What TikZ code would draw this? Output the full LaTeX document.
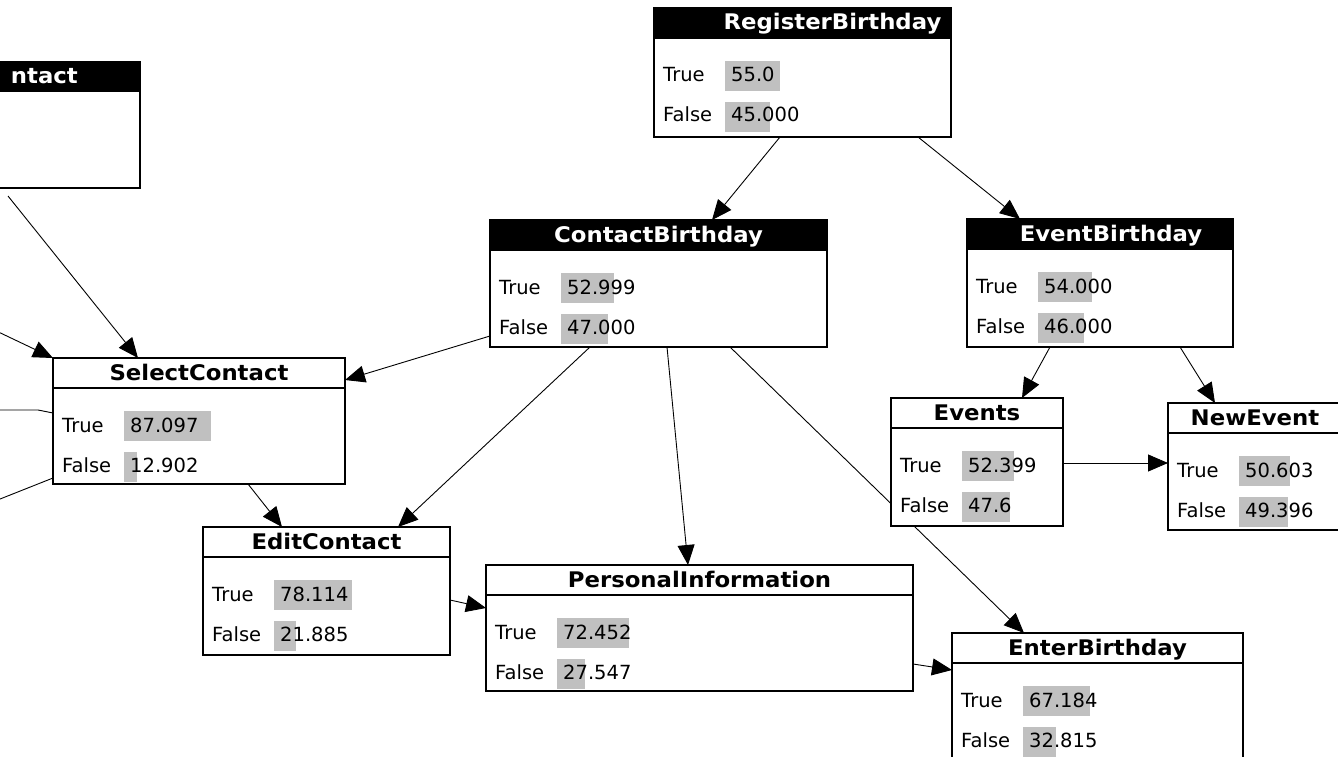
\documentclass[tikz,border=0pt]{standalone}
\usepackage{fontspec}
\newfontfamily\dvsans{DejaVu Sans}
\newfontfamily\dvhead{DejaVu Sans}[FakeStretch=1.06]
\usetikzlibrary{arrows.meta}
\definecolor{bargray}{RGB}{192,192,192}
\pgfdeclarelayer{bg}
\pgfsetlayers{bg,main}
\tikzset{
  box/.style={draw=black, fill=white, line width=1.5pt, rectangle, anchor=north west, inner sep=0pt, outer sep=0pt},
  dark fill/.style={fill=black},
  light fill/.style={},
  dark text/.style={text=white},
  light text/.style={text=black},
  darkrb fill/.style={fill=black},
  darkrb text/.style={text=white, xshift=30pt},
  darkeb fill/.style={fill=black},
  darkeb text/.style={text=white, xshift=11pt},
  htext/.style={font=\dvhead\bfseries\fontsize{21.5}{24}\selectfont, anchor=base, inner sep=0pt},
  lbl/.style={font=\dvsans\fontsize{19.5}{22}\selectfont, anchor=base west, inner sep=0pt},
  bar/.style={fill=bargray},
  edge/.style={line width=0.9pt, -{Triangle[length=20pt,width=17pt]}},
  plain/.style={line width=0.9pt},
}
% id, x, y, w, h, title, header style, true value, false value
\newcommand\BN[9]{%
  \node[box, minimum width=#4pt, minimum height=#5pt] (#1) at (#2,#3) {};
  \path[#7 fill] (#1.north west) rectangle ([yshift=-30pt]#1.north east);
  \draw[line width=1.5pt] ([yshift=-30pt]#1.north west) -- ([yshift=-30pt]#1.north east);
  \node[htext, #7 text] (#1-title) at ([yshift=-22pt]#1.north) {#6};
  \fill[bar] ([xshift=71pt,yshift=-53pt]#1.north west) rectangle ++(#8,30);
  \fill[bar] ([xshift=71pt,yshift=-94pt]#1.north west) rectangle ++(#9,30);
  \node[lbl] (#1-tl) at ([xshift=9pt,yshift=-74pt]#1.north west) {True};
  \node[lbl] (#1-tv) at ([xshift=77pt,yshift=-74pt]#1.north west) {#8};
  \node[lbl] (#1-fl) at ([xshift=9pt,yshift=-114pt]#1.north west) {False};
  \node[lbl] (#1-fv) at ([xshift=77pt,yshift=-114pt]#1.north west) {#9};
}
\begin{document}
\begin{tikzpicture}[x=1pt, y=-1pt]
\useasboundingbox (0,0) rectangle (1338,757);
\clip (0,0) rectangle (1338,757);

% partial node at top left
\node[box, minimum width=290pt, minimum height=126pt] (pc) at (-150,62) {};
\fill[black] (pc.north west) rectangle ([yshift=-30pt]pc.north east);
\node[htext, text=white, anchor=base east] (pc-title) at ([xshift=-62pt,yshift=-22pt]pc.north east) {ntact};

\BN{rb}{654}{8}{297}{129}{RegisterBirthday}{darkrb}{55.0}{45.000}
\BN{cb}{490}{220}{337}{127}{ContactBirthday}{dark}{52.999}{47.000}
\BN{eb}{967}{219}{266}{128}{EventBirthday}{darkeb}{54.000}{46.000}
\BN{sc}{53}{358}{292}{126}{SelectContact}{light}{87.097}{12.902}
\BN{ec}{203}{527}{247}{128}{EditContact}{light}{78.114}{21.885}
\BN{pi}{486}{565}{427}{126}{PersonalInformation}{light}{72.452}{27.547}
\BN{ev}{891}{398}{172}{128}{Events}{light}{52.399}{47.6}
\BN{ne}{1168}{403}{174}{127}{NewEvent}{light}{50.603}{49.396}
\BN{enb}{952}{633}{291}{127}{EnterBirthday}{light}{67.184}{32.815}

\coordinate (offA) at (-10,328);
\coordinate (offB) at (-10,410);
\coordinate (offB2) at (38,410);
\coordinate (offC) at (-10,503);

\begin{pgfonlayer}{bg}
\fill[white] (0,0) rectangle (1338,757);
\draw[edge] ([xshift=126pt]rb.south west) -- ([xshift=222pt]cb.north west);
\draw[edge] ([xshift=264pt]rb.south west) -- ([xshift=53pt]eb.north west);
\draw[edge] ([xshift=158pt,yshift=-8pt]pc.south west) -- ([xshift=85pt]sc.north west);
\draw[edge] (offA) -- (sc.north west);
\draw[plain] (offB) -- (offB2) -- ([yshift=-55pt]sc.north west);
\draw[plain] (offC) -- ([yshift=-120pt]sc.north west);
\draw[edge] ([yshift=-116pt]cb.north west) -- ([yshift=-22pt]sc.north east);
\draw[edge] ([xshift=195pt]sc.south west) -- ([xshift=79pt]ec.north west);
\draw[edge] ([xshift=100pt]cb.south west) -- ([xshift=195pt]ec.north west);
\draw[edge] ([xshift=177pt]cb.south west) -- ([xshift=202pt]pi.north west);
\draw[edge] ([xshift=240pt]cb.south west) -- ([xshift=72pt]enb.north west);
\draw[edge] ([yshift=-73pt]ec.north east) -- ([yshift=-43pt]pi.north west);
\draw[edge] ([yshift=-99pt]pi.north east) -- ([yshift=-37pt]enb.north west);
\draw[edge] ([xshift=83pt]eb.south west) -- ([xshift=131pt]ev.north west);
\draw[edge] ([xshift=213pt]eb.south west) -- ([xshift=47pt]ne.north west);
\draw[edge] ([yshift=-65pt]ev.north east) -- ([yshift=-60pt]ne.north west);
\end{pgfonlayer}
\end{tikzpicture}
\end{document}
